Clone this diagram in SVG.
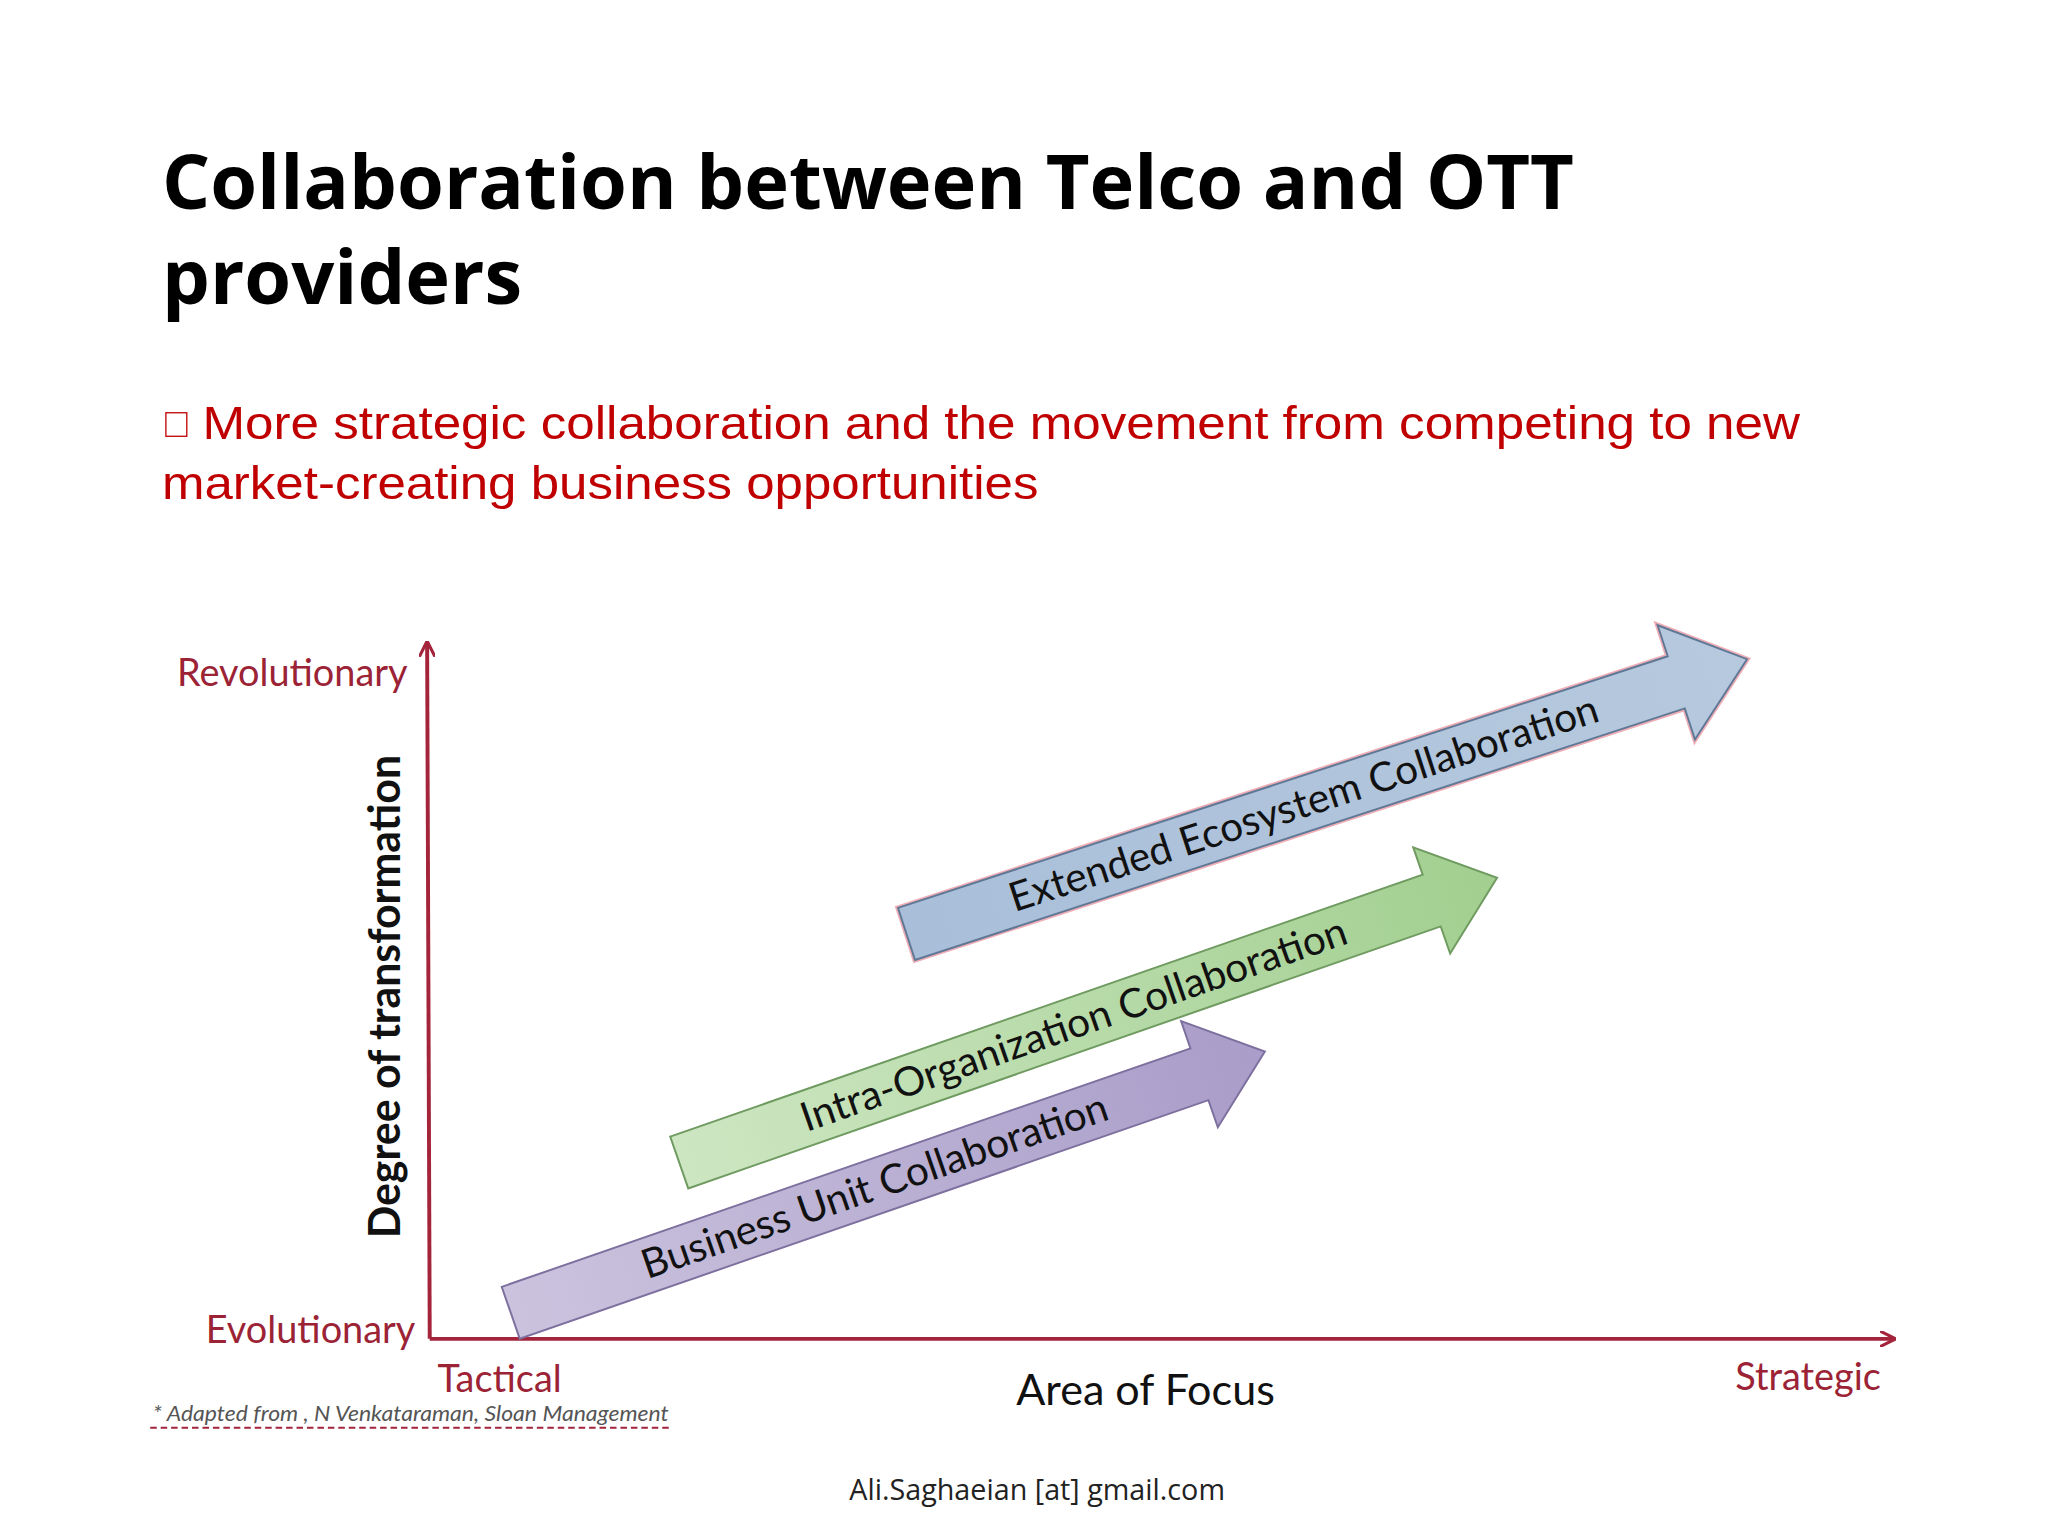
<svg xmlns="http://www.w3.org/2000/svg" width="2048" height="1536" viewBox="0 0 2048 1536">
<defs>
<linearGradient id="gp" x1="0" y1="0" x2="1" y2="0"><stop offset="0" stop-color="#cbc3de"/><stop offset="1" stop-color="#a99dc9"/></linearGradient>
<linearGradient id="gg" x1="0" y1="0" x2="1" y2="0"><stop offset="0" stop-color="#cde6c2"/><stop offset="1" stop-color="#a2cf90"/></linearGradient>
<linearGradient id="gb" x1="0" y1="0" x2="1" y2="0"><stop offset="0" stop-color="#a9bfd9"/><stop offset="1" stop-color="#b6c9de"/></linearGradient>
<marker id="ah" viewBox="0 0 10 10" refX="9" refY="5" markerWidth="12" markerHeight="12" markerUnits="userSpaceOnUse" orient="auto"><path d="M0,0 L10,5 L0,10" fill="none" stroke="#a3243b" stroke-width="2"/></marker>
</defs>
<style>
.ax{stroke:#a3243b;stroke-width:3;fill:none}
.lab{font-family:Lato,"Open Sans",sans-serif;font-size:29px;fill:#9b2335}
.at{font-family:Lato,"Open Sans",sans-serif;font-size:31px;fill:#111}
</style>
<rect width="2048" height="1536" fill="#fff"/>
<g transform="scale(1.3062)">
<g id="title" font-family="'Open Sans',sans-serif" font-weight="bold" font-size="58" fill="#000">
<text x="124" y="160" textLength="1081" lengthAdjust="spacingAndGlyphs">Collaboration between Telco and OTT</text>
<text x="124" y="233">providers</text>
</g>
<g id="bullet" font-family="'Liberation Sans',Arial,sans-serif" font-size="36" fill="#c00000">
<rect x="127" y="316" width="16" height="18" fill="none" stroke="#c00000" stroke-width="1"/>
<text x="155" y="336" textLength="1223" lengthAdjust="spacingAndGlyphs">More strategic collaboration and the movement from competing to new</text>
<text x="124" y="382" textLength="671" lengthAdjust="spacingAndGlyphs">market-creating business opportunities</text>
</g>
<g id="connectors">
<path class="ax" d="M329,1025 L327,492" marker-end="url(#ah)"/>
<path class="ax" d="M329,1025 L1450,1025" marker-end="url(#ah)"/>
</g>
<g id="labels">
<text class="lab" x="312" y="525" text-anchor="end">Revolutionary</text>
<text class="lab" x="318" y="1028" text-anchor="end">Evolutionary</text>
<text class="lab" x="335" y="1066">Tactical</text>
<text class="lab" x="1440" y="1064" text-anchor="end">Strategic</text>
<text x="877" y="1076" text-anchor="middle" font-family="Lato,sans-serif" font-size="33" fill="#111">Area of Focus</text>
<text transform="translate(306,763) rotate(-90)" text-anchor="middle" font-family="Lato,sans-serif" font-weight="bold" font-size="34" fill="#111" textLength="370" lengthAdjust="spacingAndGlyphs">Degree of transformation</text>
<text x="117" y="1088" font-family="Lato,sans-serif" font-style="italic" font-size="16" fill="#555" textLength="395" lengthAdjust="spacingAndGlyphs">* Adapted from , N Venkataraman, Sloan Management</text>
<line x1="115" y1="1093" x2="512" y2="1093" stroke="#a3243b" stroke-width="1.5" stroke-dasharray="5,3"/>
<text x="794" y="1148" text-anchor="middle" font-family="'Open Sans',sans-serif" font-size="22" fill="#222">Ali.Saghaeian [at] gmail.com</text>
</g>
<g id="arrow-blue" transform="translate(694,715) rotate(-18.1)">
<path d="M0,-21 L620,-21 L620,-46 L677,0 L620,46 L620,21 L0,21 Z" fill="url(#gb)" stroke="#e06070" stroke-width="4" opacity="0.5"/>
<path d="M0,-21 L620,-21 L620,-46 L677,0 L620,46 L620,21 L0,21 Z" fill="url(#gb)" stroke="#5f7896" stroke-width="1.5"/>
<text class="at" x="320" y="10" text-anchor="middle">Extended Ecosystem Collaboration</text>
</g>
<g id="arrow-green" transform="translate(520,890) rotate(-19.2)">
<path d="M0,-21 L610,-21 L610,-43 L663,0 L610,43 L610,21 L0,21 Z" fill="url(#gg)" stroke="#6f9a60" stroke-width="1.5"/>
<text class="at" x="320" y="10" text-anchor="middle">Intra-Organization Collaboration</text>
</g>
<g id="arrow-purple" transform="translate(391,1005) rotate(-19.1)">
<path d="M0,-21 L558,-21 L558,-43 L611,0 L558,43 L558,21 L0,21 Z" fill="url(#gp)" stroke="#7e709e" stroke-width="1.5"/>
<text class="at" x="295" y="10" text-anchor="middle">Business Unit Collaboration</text>
</g>
</g>
</svg>
